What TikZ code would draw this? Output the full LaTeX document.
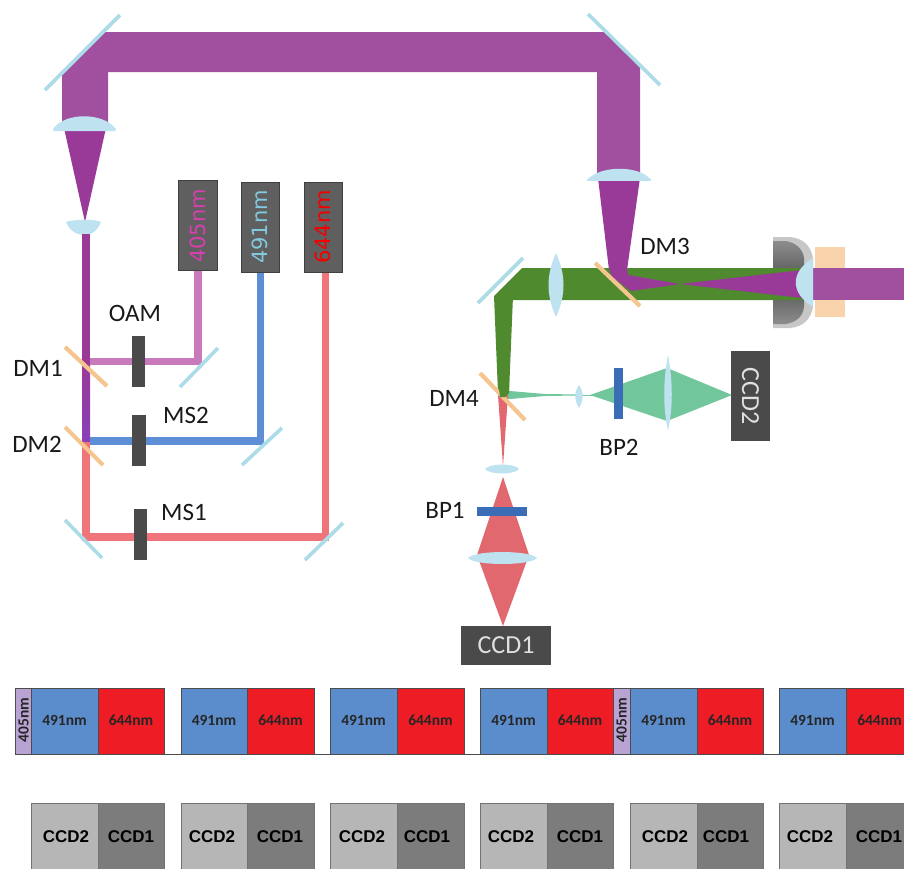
\documentclass[tikz,border=0pt]{standalone}
\usepackage{fontspec}
\setmainfont{Carlito}
\newfontfamily\arialf{Liberation Sans}
\newfontfamily\dejaf{DejaVu Sans}
\definecolor{beam}{HTML}{A0509F}
\definecolor{beamd}{HTML}{9A3A98}
\definecolor{gbeam}{HTML}{4F8A2E}
\definecolor{lgreen}{HTML}{72C69C}
\definecolor{rbeam}{HTML}{E0686E}
\definecolor{rline}{HTML}{F0757A}
\definecolor{bline}{HTML}{5E8FD6}
\definecolor{pline}{HTML}{C87ABA}
\definecolor{lensc}{HTML}{BFE2F0}
\definecolor{mirc}{HTML}{ABDCE8}
\definecolor{dmc}{HTML}{F5C590}
\definecolor{darkb}{HTML}{4A4A4A}
\definecolor{las}{HTML}{5F5F5F}
\definecolor{tblue}{HTML}{5B8CCB}
\definecolor{tred}{HTML}{EE1C25}
\definecolor{tpur}{HTML}{B9A3D3}
\definecolor{cl}{HTML}{B6B6B6}
\definecolor{cd}{HTML}{7C7C7C}
\definecolor{bpc}{HTML}{3A6DB5}
\definecolor{lab491}{HTML}{82C8DE}
\definecolor{lab405}{HTML}{D83FAE}
\tikzset{
 mirrorline/.style={draw=mirc,line width=3.6pt},
 dmline/.style={draw=dmc,line width=4.2pt},
 lensshape/.style={fill=lensc,draw=none},
 lab/.style={font=\fontsize{25}{26}\selectfont,text=black!90,inner sep=0pt},
 barbox/.style={fill=darkb,draw=none,inner sep=0pt},
 laser/.style={fill=las,draw=black!75,line width=1pt,inner sep=0pt},
 laslab/.style={font=\dejaf\fontsize{21}{22}\selectfont,rotate=90,inner sep=0pt},
 ccdbox/.style={fill=darkb,draw=none,text=white!88!black,font=\fontsize{26}{27}\selectfont,inner sep=0pt},
 seqtext/.style={inner sep=0pt,font=\bfseries\fontsize{15.5}{16}\selectfont,text=black!85},
 camtext/.style={inner sep=0pt,font=\arialf\bfseries\fontsize{17}{18}\selectfont,text=black},
 seqcell/.style={draw=black!70,line width=.7pt},
 camcell/.style={draw=black!55,line width=.7pt},
}
\begin{document}
\begin{tikzpicture}[x=1pt,y=-1pt]
\useasboundingbox (0,0) rectangle (904,868);
% --- top beam
\fill[beam] (62,73)--(103,32)--(606,32)--(640,66)--(640,178)--(597,178)--(597,72)--(108,72)--(108,125)--(62,125)--cycle;
\fill[beamd] (64,128)--(106,128)--(85,222)--cycle;
\draw[mirrorline] (45,90)--(120,15);
\draw[mirrorline] (588,14)--(660,85);
\fill[lensshape] (53,129) .. controls (65,112) and (103,112) .. (116,129) -- (115,131) -- (54,131) -- cycle;
\fill[lensshape] (66,222) .. controls (75,219) and (95,219) .. (101,222) .. controls (97,232) and (90,235) .. (85,235) .. controls (78,235) and (70,232) .. (66,222) -- cycle;
% --- left vertical lines
\fill[beamd] (82,234) rectangle (90,362);
\shade[top color=beamd,bottom color=blue!50!purple!75!white] (82,362) rectangle (90,442);
\fill[rline] (82,442) rectangle (90,540);
\fill[pline] (90,358) rectangle (202,365);
\fill[pline] (194,270) rectangle (202,365);
\fill[bline] (90,437) rectangle (264,445);
\fill[bline] (257,272) rectangle (264,445);
\fill[rline] (82,533) rectangle (329,541);
\fill[rline] (322,272) rectangle (329,541);
% mirrors
\draw[mirrorline] (180,387)--(218,348);
\draw[mirrorline] (242,465)--(282,428);
\draw[mirrorline] (305,560)--(343,523);
\draw[mirrorline] (65,520)--(102,558);
\draw[dmline] (65,347)--(107,386);
\draw[dmline] (65,427)--(103,465);
% bars
\node[barbox,minimum width=13pt,minimum height=51pt] (oam) at (138.5,361.5) {};
\node[barbox,minimum width=14pt,minimum height=51pt] (ms2) at (139,440.5) {};
\node[barbox,minimum width=13pt,minimum height=51pt] (ms1) at (140.5,534.5) {};
% lasers
\node[laser,minimum width=39pt,minimum height=90pt] (l405) at (198,225) {};
\node[laser,minimum width=38pt,minimum height=90pt] (l491) at (260,227) {};
\node[laser,minimum width=38pt,minimum height=90pt] (l644) at (323,227) {};
\node[laslab,text=lab405] (t405) at (198,226) {405nm};
\node[laslab,text=lab491] (t491) at (260,227) {491nm};
\node[laslab,text=red!95!black] (t644) at (323,227) {644nm};
% labels left
\node[lab] (loam) at (135,313) {OAM};
\node[lab] (ldm1) at (38,368) {DM1};
\node[lab] (lms2) at (186,415) {MS2};
\node[lab] (ldm2) at (37,444) {DM2};
\node[lab] (lms1) at (184,512) {MS1};
% --- right part
\fill[beamd] (598,178)--(640,178)--(627,270)--(609,270)--cycle;
\fill[lensshape] (587,180) -- (651,180) .. controls (640,165) and (600,165) .. (587,180) -- cycle;
\fill[lensshape] (587,179) rectangle (651,181);
% objective
\fill[black!22] (773,237)--(790,237) .. controls (803,238) and (811,246) .. (813,258) -- (813,307) .. controls (811,319) and (803,327) .. (790,328) -- (773,328) -- cycle;
\shade[top color=black!45,bottom color=black!45,middle color=black!68] (773,241) -- (786,241) .. controls (797,243) and (803,250) .. (804,258) -- (804,307) .. controls (803,316) and (797,322) .. (786,324) -- (773,324) -- cycle;
\fill[dmc!75!white] (815,247) rectangle (845,317);
% green beam
\fill[gbeam] (494,296)--(522,268)--(802,268)--(802,300)--(513,300)--(513,296)--(509,393)--(498,393)--cycle;
% purple in objective region
\fill[beamd] (609,268)--(627,268)--(628,275)--(680,284)--(802,270)--(802,298)--(680,284)--(631,291)--(612,277)--cycle;
\fill[beam] (813,268) rectangle (904,300);
\fill[lensc] (813,258) .. controls (790,272) and (790,293) .. (813,307) -- cycle;
\draw[mirrorline] (478,303)--(523,258);
\fill[lensshape] (556,253) .. controls (546,275) and (546,295) .. (556,317) .. controls (566,295) and (566,275) .. (556,253) -- cycle;
\draw[dmline] (595,263)--(640,306);
% green to CCD2
\fill[lgreen] (505,391)--(510,391)--(545,394)--(578,394.5)--(578,395.5)--(545,396)--(510,399)--(505,399)--cycle;
\fill[lgreen] (578,394.5) rectangle (592,395.5);
\fill[lgreen] (590,395)--(667,368)--(732,395)--(667,421)--cycle;
\fill[lensshape] (579,385) .. controls (574,392) and (574,400) .. (579,408) .. controls (584,400) and (584,392) .. (579,385) -- cycle;
\fill[lensshape] (668,355) .. controls (663,380) and (663,410) .. (668,430) .. controls (673,410) and (673,380) .. (668,355) -- cycle;
\node[fill=bpc,minimum width=9pt,minimum height=51pt,inner sep=0pt] (bp2) at (618.5,393.5) {};
\node[ccdbox,minimum width=39pt,minimum height=90pt] (ccd2) at (750.5,396) {};
\node[font=\fontsize{26}{27}\selectfont,text=white!88!black,rotate=-90,inner sep=0pt] (ccd2t) at (750.5,396) {CCD2};
% red path to CCD1
\fill[rbeam] (498,395)--(508,395)--(503,466)--cycle;
\fill[rbeam] (503,477)--(529,555)--(503,626)--(477,555)--cycle;
\draw[dmline] (480,373)--(525,420);
\fill[gbeam] (498,380)--(509,380)--(509,393)--(505,397)--(500,397)--cycle;
\fill[lensshape] (485,469) .. controls (490,463) and (514,463) .. (519,469) .. controls (514,475) and (490,475) .. (485,469) -- cycle;
\fill[lensshape] (468,558) .. controls (475,550) and (530,550) .. (537,558) .. controls (530,566) and (475,566) .. (468,558) -- cycle;
\node[fill=bpc,minimum width=50pt,minimum height=9pt,inner sep=0pt] (bp1) at (502,511.5) {};
\node[ccdbox,minimum width=90pt,minimum height=39pt] (ccd1) at (506,645.5) {CCD1};
% labels right
\node[lab] (ldm3) at (665,246) {DM3};
\node[lab] (lbp2) at (619,447) {BP2};
\node[lab] (ldm4) at (454,398) {DM4};
\node[lab] (lbp1) at (445,510) {BP1};
% --- sequence row
\draw[black!70,line width=.7pt] (15,754)--(904,754);
\foreach \xa/\xb/\xc/\nm in {31/98/164/a,181/247/314/b,330/397/464/c,480/547/613/d,630/697/763/e,779/846/913/f}{
 \path[seqcell,fill=tblue] (\xa,688) rectangle (\xb,754);
 \path[seqcell,fill=tred] (\xb,688) rectangle (\xc,754);
 \node[seqtext] (b\nm) at ({(\xa+\xb)/2},720) {491nm};
 \node[seqtext] (r\nm) at ({(\xb+\xc)/2},720) {644nm};
}
\path[seqcell,fill=tpur] (15,688) rectangle (31,754);
\path[seqcell,fill=tpur] (613,688) rectangle (630,754);
\node[seqtext,rotate=90] (p1) at (23.5,720) {405nm};
\node[seqtext,rotate=90] (p2) at (621.5,720) {405nm};
% --- camera row
\foreach \xa/\xb/\xc/\ta/\tb/\nm in {31/98/164/66/131/a,181/247/314/212/280/b,330/397/464/362/427/c,480/547/613/511/580/d,630/697/763/665/726/e,779/846/913/810/879/f}{
 \path[camcell,fill=cl] (\xa,803) rectangle (\xb,880);
 \path[camcell,fill=cd] (\xb,803) rectangle (\xc,880);
 \node[camtext] (cc\nm) at (\ta,837) {CCD2};
 \node[camtext] (cd\nm) at (\tb,837) {CCD1};
}
\end{tikzpicture}
\end{document}
